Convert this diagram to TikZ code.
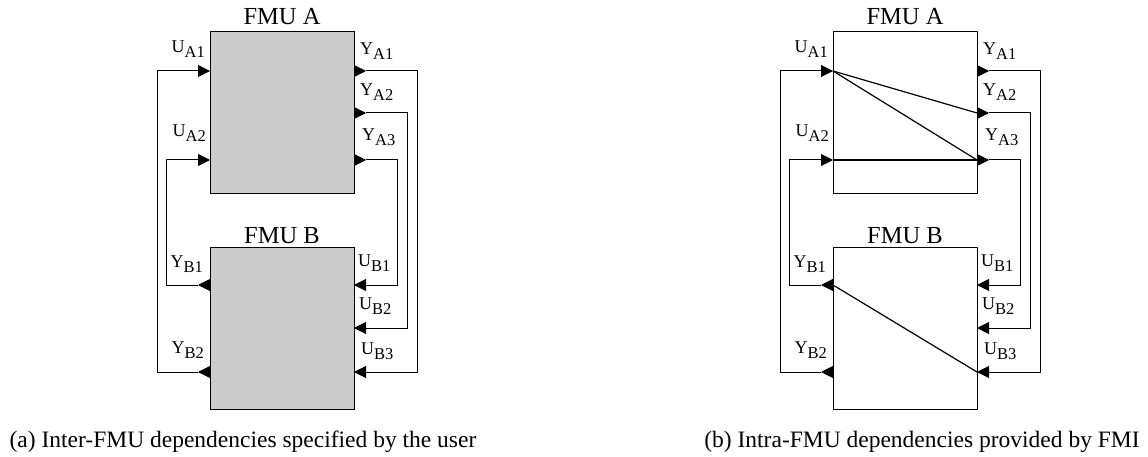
\documentclass[tikz,border=0pt]{standalone}
\usepackage{fontspec}
\setmainfont{Liberation Serif}
\usetikzlibrary{arrows.meta}

\tikzset{
  fmu/.style={draw, line width=0.7pt, minimum width=144pt, minimum height=162pt,
              inner sep=0pt, anchor=north west},
  conn/.style={line width=1pt},
  dep/.style={line width=1.2pt},
  tri/.style={-{Triangle[length=12pt,width=12pt]}},
  title/.style={font=\fontsize{24.5}{26}\selectfont, anchor=base, inner sep=0pt},
  portl/.style={inner sep=0pt, anchor=base east},
  portr/.style={inner sep=0pt, anchor=base west},
  captext/.style={font=\fontsize{23.5}{26}\selectfont, anchor=base, inner sep=0pt},
}
% signal name: letter with a lowered index
\newcommand\sig[2]{{\fontsize{18}{20}\selectfont #1}\raisebox{-5pt}{\fontsize{16.5}{18}\selectfont #2}}

% two coupled FMUs with their ports and user-given connections
\newcommand\fmupair[3]{%
  \begin{scope}[xshift=#3]
    \node[fmu, fill=#2] (#1A) at (210,31) {};
    \node[fmu, fill=#2] (#1B) at (210,247) {};
    \node[title] (#1tA) at (282,25) {FMU A};
    \node[title] (#1tB) at (282,243) {FMU B};
    % ports of FMU A
    \coordinate (#1uA1) at (210,71);
    \coordinate (#1uA2) at (210,160);
    \coordinate (#1yA1) at (354,71);
    \coordinate (#1yA2) at (354,113);
    \coordinate (#1yA3) at (354,160);
    \coordinate (#1yA1o) at (366,71);
    \coordinate (#1yA2o) at (366,113);
    \coordinate (#1yA3o) at (366,160);
    % ports of FMU B
    \coordinate (#1yB1) at (210,285);
    \coordinate (#1yB2) at (210,372);
    \coordinate (#1yB1o) at (198,285);
    \coordinate (#1yB2o) at (198,372);
    \coordinate (#1uB1) at (354,285);
    \coordinate (#1uB2) at (354,328);
    \coordinate (#1uB3) at (354,372);
    % port labels
    \node[portl] (#1luA1) at (205,53) {\sig{U}{A1}};
    \node[portl] (#1luA2) at (206,137) {\sig{U}{A2}};
    \node[portr] (#1lyA1) at (360,55) {\sig{Y}{A1}};
    \node[portr] (#1lyA2) at (360,96) {\sig{Y}{A2}};
    \node[portr] (#1lyA3) at (362,141) {\sig{Y}{A3}};
    \node[portl] (#1lyB1) at (203,267) {\sig{Y}{B1}};
    \node[portl] (#1lyB2) at (204,353) {\sig{Y}{B2}};
    \node[portr] (#1luB1) at (358,266) {\sig{U}{B1}};
    \node[portr] (#1luB2) at (359,309) {\sig{U}{B2}};
    \node[portr] (#1luB3) at (361,354) {\sig{U}{B3}};
    % output markers
    \draw[conn,tri] (#1yA1) -- (#1yA1o);
    \draw[conn,tri] (#1yA2) -- (#1yA2o);
    \draw[conn,tri] (#1yA3) -- (#1yA3o);
    \draw[conn,tri] (#1yB1) -- (#1yB1o);
    \draw[conn,tri] (#1yB2) -- (#1yB2o);
    % inter-FMU connections
    \draw[conn,tri] (#1yB2o) -- ++(-41,0) |- (#1uA1);
    \draw[conn,tri] (#1yB1o) -- ++(-32,0) |- (#1uA2);
    \draw[conn,tri] (#1yA1o) -- ++(51,0) |- (#1uB3);
    \draw[conn,tri] (#1yA2o) -- ++(41,0) |- (#1uB2);
    \draw[conn,tri] (#1yA3o) -- ++(31,0) |- (#1uB1);
  \end{scope}%
}

\begin{document}
\begin{tikzpicture}[x=1pt,y=-1pt]
  \useasboundingbox (0,0) rectangle (1148,457);

  \fmupair{L}{black!20}{0pt}
  \fmupair{R}{white}{623pt}

  % intra-FMU dependencies
  \draw[dep] (RuA1) -- (RyA2);
  \draw[dep] (RuA1) -- (RyA3);
  \draw[dep] (RuA2) -- (RyA3);
  \draw[dep] (RyB1) -- (RuB3);

  \node[captext] (capa) at (243,447) {(a) Inter-FMU dependencies specified by the user};
  \node[captext] (capb) at (922,447) {(b) Intra-FMU dependencies provided by FMI};
\end{tikzpicture}
\end{document}
